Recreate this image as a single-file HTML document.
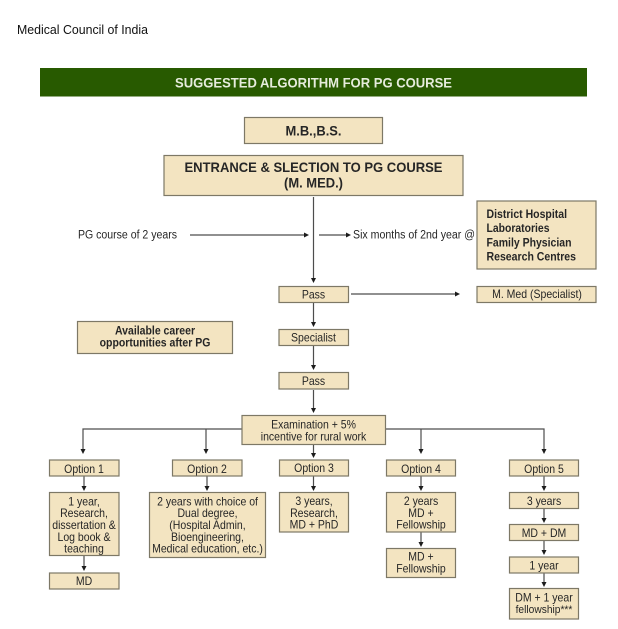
<!DOCTYPE html>
<html>
<head>
<meta charset="utf-8">
<style>
html,body{margin:0;padding:0;background:#fff;width:618px;height:629px;overflow:hidden}
svg{display:block}
.d text{font-family:"Liberation Sans",sans-serif;fill:#262626;font-size:11.5px;text-anchor:middle;transform-box:fill-box;transform-origin:center;transform:scaleX(.913)}
.d text.t{transform:none}
.d text.l{text-anchor:start}
.d text.b{font-weight:bold}
.box rect{fill:#f3e4c1;stroke:#7d7866;stroke-width:1.2}
.ln path{fill:none;stroke:#4d4d4d;stroke-width:1.2}
.ar path{fill:#1c1c1c}
</style>
</head>
<body>
<svg width="618" height="629" viewBox="0 0 618 629" xmlns="http://www.w3.org/2000/svg">
<text x="17" y="34" font-family="'Liberation Sans',sans-serif" font-size="12.5px" fill="#111" textLength="131" lengthAdjust="spacingAndGlyphs">Medical Council of India</text>
<g class="d" style="filter:blur(0.35px)">
<rect x="40" y="68" width="547" height="28.500" fill="#285a00"/>
<text x="313.500" y="87.300" class="b t" style="fill:#e6ecdc;font-size:14px" textLength="277" lengthAdjust="spacingAndGlyphs">SUGGESTED ALGORITHM FOR PG COURSE</text>

<g class="ln">
<path d="M313.500 197V278M313.500 303V322M313.500 346V365M313.500 390V408M313.500 445V453M190 235H304M319 235H346M351 294H455"/>
<path d="M242 429H83V449M206 429V449M386 429H544V449M421 429V449"/>
<path d="M84 476V486M207 476V486M313.500 476V486M421 476V486M544 476V486M84 556V566M421 532V542M544 509V518M544 541V550M544 573V582"/>
</g>
<g class="ar">
<path d="M311 278h5l-2.500 5zM311 322h5l-2.500 5zM311 365h5l-2.500 5zM311 408h5l-2.500 5zM311 453h5l-2.500 5z"/>
<path d="M304 232.500v5l5-2.500zM346 232.500v5l5-2.500zM455 291.500v5l5-2.500z"/>
<path d="M80.500 449h5l-2.500 5zM203.500 449h5l-2.500 5zM418.500 449h5l-2.500 5zM541.500 449h5l-2.500 5z"/>
<path d="M81.500 486h5l-2.500 5zM204.500 486h5l-2.500 5zM311 486h5l-2.500 5zM418.500 486h5l-2.500 5zM541.500 486h5l-2.500 5z"/>
<path d="M81.500 566h5l-2.500 5zM418.500 542h5l-2.500 5zM541.500 518h5l-2.500 5zM541.500 550h5l-2.500 5zM541.500 582h5l-2.500 5z"/>
</g>

<g class="box">
<rect x="244.500" y="117.500" width="138" height="26"/>
<rect x="164" y="155.500" width="299" height="40"/>
<rect x="477" y="201" width="119" height="68"/>
<rect x="279" y="286.500" width="69.500" height="16"/>
<rect x="477" y="286.500" width="119" height="16"/>
<rect x="77.500" y="321.500" width="155" height="32"/>
<rect x="279" y="329.500" width="69.500" height="16"/>
<rect x="279" y="372.500" width="69.500" height="16.500"/>
<rect x="242" y="415.500" width="143.500" height="29"/>
<rect x="49.500" y="460" width="69.500" height="16"/>
<rect x="49.500" y="492.500" width="69.500" height="63"/>
<rect x="49.500" y="573" width="69.500" height="16"/>
<rect x="172.500" y="460" width="69.500" height="16"/>
<rect x="149.500" y="492.500" width="116" height="65"/>
<rect x="279.500" y="460" width="69" height="16"/>
<rect x="279.500" y="492.500" width="69" height="39.500"/>
<rect x="386.500" y="460" width="69" height="16"/>
<rect x="386.500" y="492.500" width="69" height="39.500"/>
<rect x="386.500" y="548.500" width="69" height="29"/>
<rect x="509.500" y="460" width="69" height="16"/>
<rect x="509.500" y="492.500" width="69" height="16"/>
<rect x="509.500" y="524.500" width="69" height="16"/>
<rect x="509.500" y="557" width="69" height="16"/>
<rect x="509.500" y="588.500" width="69" height="30.500"/>
</g>

<text x="313.500" y="135.500" class="b t" style="font-size:13.500px" textLength="56" lengthAdjust="spacingAndGlyphs">M.B.,B.S.</text>
<text x="313.500" y="172" class="b t" style="font-size:14px" textLength="258" lengthAdjust="spacingAndGlyphs">ENTRANCE &amp; SLECTION TO PG COURSE</text>
<text x="313.500" y="187.500" class="b t" style="font-size:14px" textLength="59" lengthAdjust="spacingAndGlyphs">(M. MED.)</text>

<text x="78" y="238.500" class="l t" textLength="99" lengthAdjust="spacingAndGlyphs">PG course of 2 years</text>
<text x="353" y="238.500" class="l t" textLength="122" lengthAdjust="spacingAndGlyphs">Six months of 2nd year @</text>

<text x="486.500" y="218" class="l b t" textLength="80.500" lengthAdjust="spacingAndGlyphs">District Hospital</text>
<text x="486.500" y="232" class="l b t" textLength="63" lengthAdjust="spacingAndGlyphs">Laboratories</text>
<text x="486.500" y="246.500" class="l b t" textLength="85" lengthAdjust="spacingAndGlyphs">Family Physician</text>
<text x="486.500" y="260.500" class="l b t" textLength="89.500" lengthAdjust="spacingAndGlyphs">Research Centres</text>

<text x="313.500" y="298.500">Pass</text>
<text x="537" y="298">M. Med (Specialist)</text>
<text x="155" y="334.500" class="b">Available career</text>
<text x="155" y="346.500" class="b">opportunities after PG</text>
<text x="313.500" y="341.500">Specialist</text>
<text x="313.500" y="385">Pass</text>

<text x="313.500" y="428.500">Examination + 5%</text>
<text x="313.500" y="440.500">incentive for rural work</text>

<text x="84" y="473">Option 1</text>
<text x="207" y="473">Option 2</text>
<text x="314" y="472">Option 3</text>
<text x="421" y="473">Option 4</text>
<text x="544" y="473">Option 5</text>

<text x="84" y="505.500">1 year,</text>
<text x="84" y="517">Research,</text>
<text x="84" y="529">dissertation &amp;</text>
<text x="84" y="541">Log book &amp;</text>
<text x="84" y="552.500">teaching</text>
<text x="84" y="585">MD</text>

<text x="207.500" y="505.500">2 years with choice of</text>
<text x="207.500" y="517">Dual degree,</text>
<text x="207.500" y="529">(Hospital Admin,</text>
<text x="207.500" y="541">Bioengineering,</text>
<text x="207.500" y="552.500">Medical education, etc.)</text>

<text x="314" y="505">3 years,</text>
<text x="314" y="517">Research,</text>
<text x="314" y="528.500">MD + PhD</text>

<text x="421" y="505">2 years</text>
<text x="421" y="517">MD +</text>
<text x="421" y="528.500">Fellowship</text>
<text x="421" y="560.500">MD +</text>
<text x="421" y="572.500">Fellowship</text>

<text x="544" y="505">3 years</text>
<text x="544" y="537">MD + DM</text>
<text x="544" y="569.500">1 year</text>
<text x="544" y="601.500">DM + 1 year</text>
<text x="544" y="613" style="font-size:11.200px">fellowship***</text>
</g>
</svg>
</body>
</html>
